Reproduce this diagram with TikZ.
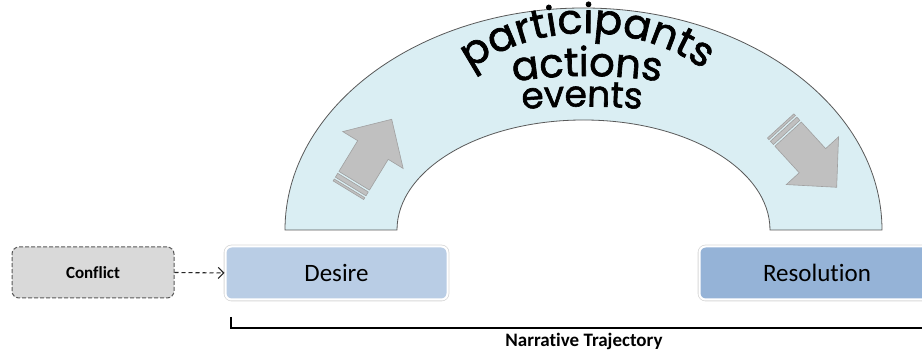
\documentclass[tikz,border=0pt]{standalone}
\usepackage{fontspec}
\setmainfont{Carlito}[Ligatures=CommonOff]
\newfontfamily\archfont{Poppins}[FakeBold=1.6]
\usetikzlibrary{arrows.meta,decorations.text}
\definecolor{archfill}{HTML}{DAEEF3}
\definecolor{archline}{HTML}{595959}
\definecolor{desirefill}{HTML}{B9CDE5}
\definecolor{resfill}{HTML}{95B3D7}
\definecolor{conffill}{HTML}{D9D9D9}
\definecolor{blockfill}{HTML}{C0C0C0}
\definecolor{blockline}{HTML}{A0A0A0}
\newcommand\myblockarrow[3]{%
  \begin{scope}[shift={(#1,#2)},rotate=#3]
    \filldraw[blockstyle] (0,0) -- (-36,35.4) -- (-36,17.9) -- (-72,17.9) -- (-72,-17.9) -- (-36,-17.9) -- (-36,-35.4) -- cycle;
    \filldraw[blockstyle] (-74.25,17.9) rectangle (-78.7,-17.9);
    \filldraw[blockstyle] (-80.9,17.9) rectangle (-83.1,-17.9);
  \end{scope}}
\begin{document}
\begin{tikzpicture}[x=1pt,y=1pt,
  blockstyle/.style={fill=blockfill,draw=blockline,line width=0.6pt,line join=miter},
  stagebox/.style={rounded corners=6pt,minimum height=53pt,inner sep=0pt,
    draw=white,line width=2pt,preaction={draw=gray!30,line width=3.6pt},
    font=\fontsize{25}{30}\selectfont},
  confbox/.style={rounded corners=7pt,minimum width=162pt,minimum height=51pt,inner sep=0pt,
    fill=conffill,draw=archline,line width=1pt,dash pattern=on 4pt off 2pt,
    font=\bfseries\fontsize{17}{20}\selectfont},
  flowarrow/.style={draw=black!85,line width=1.1pt,dash pattern=on 4pt off 3pt,
    -{Straight Barb[length=5.5pt,width=11pt]}},
  archtext/.style={decorate,decoration={text along path,text align=center,text={#1}}}
]
\fill[white] (0,0) rectangle (922,352);
\useasboundingbox (0,0) rectangle (922,352);

% arch band
\filldraw[fill=archfill,draw=archline,line width=0.8pt]
  (285,122) arc[start angle=180,end angle=0,x radius=298.5,y radius=222]
  -- (770,122) arc[start angle=0,end angle=180,x radius=186.5,y radius=110] -- cycle;

% block arrows
\myblockarrow{391.7}{232.7}{58.6}
\myblockarrow{836.7}{164.7}{-47.6}

% curved words
\path[archtext={|\archfont\fontsize{41}{48}\selectfont|participants}]
  ([shift={(135:205)}]587,114) arc[start angle=135,end angle=45,radius=205];
\path[archtext={|\archfont\fontsize{40}{48}\selectfont|actions}]
  ([shift={(102:492)}]587,-216) arc[start angle=102,end angle=78,radius=492];
\path[archtext={|\archfont\fontsize{36}{44}\selectfont|events}]
  ([shift={(97:700)}]582,-454.5) arc[start angle=97,end angle=83,radius=700];

% boxes
\node[confbox] (conflict) at (93,79.5) {Conflict};
\node[stagebox,fill=desirefill,minimum width=222pt] (desire) at (336.5,79) {Desire};
\node[stagebox,fill=resfill,minimum width=235pt] (resolution) at (817,79) {Resolution};

\draw[flowarrow] (conflict.east) -- (desire.west);

% trajectory bracket
\coordinate (brtop) at (231,35);
\coordinate (brcorner) at (231,24);
\coordinate (brend) at (930,24);
\draw[line width=1.2pt,black] (brtop) -- (brcorner) -- (brend);
\node[anchor=base,font=\bfseries\fontsize{19}{22}\selectfont,inner sep=0pt] (traj) at (584,5.3) {Narrative Trajectory};
\end{tikzpicture}
\end{document}
